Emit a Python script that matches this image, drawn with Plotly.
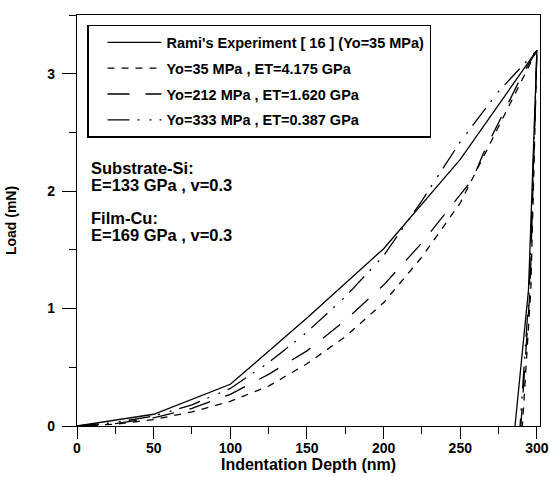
import plotly.graph_objects as go

# ---- data (depth in nm, load in mN) ----
exp_depth = [0, 50, 100, 150, 200, 250, 300, 297.5, 294.5, 285.7]
exp_load = [0, 0.10, 0.355, 0.92, 1.51, 2.27, 3.20, 2.20, 1.16, 0.0]

yo35_depth = [0, 25, 50, 75, 100, 125, 150, 175, 200, 225, 250, 275, 300, 296, 290.5]
yo35_load = [0, 0.015, 0.055, 0.12, 0.21, 0.34, 0.53, 0.76, 1.05, 1.44, 1.90, 2.55, 3.20, 1.16, 0.0]

yo212_depth = [0, 25, 50, 75, 100, 125, 150, 175, 200, 225, 250, 258, 265, 280, 290, 300, 295.5, 289.5]
yo212_load = [0, 0.02, 0.07, 0.15, 0.27, 0.44, 0.64, 0.90, 1.20, 1.56, 1.97, 2.10, 2.32, 2.72, 2.98, 3.20, 1.16, 0.0]

yo333_depth = [0, 25, 50, 75, 100, 125, 150, 175, 200, 225, 250, 275, 300, 295, 289]
yo333_load = [0, 0.03, 0.085, 0.18, 0.32, 0.54, 0.80, 1.10, 1.45, 1.92, 2.42, 2.85, 3.20, 1.16, 0.0]

series_names = [
    "Rami's Experiment [ 16 ] (Yo=35 MPa)",
    "Yo=35 MPa , ET=4.175 GPa",
    "Yo=212 MPa , ET=1.620 GPa",
    "Yo=333 MPa , ET=0.387 GPa",
]
series_x = [exp_depth, yo35_depth, yo212_depth, yo333_depth]
series_y = [exp_load, yo35_load, yo212_load, yo333_load]
series_dash = ["solid", "7px,7px", "22px,16px", "22px,8px,2px,10px,2px,8px"]

x_ticks = [0, 50, 100, 150, 200, 250, 300]
y_ticks = [0, 1, 2, 3]

notes = ["Substrate-Si:", "E=133 GPa , v=0.3", "Film-Cu:", "E=169 GPa , v=0.3"]
note_y = [0.628, 0.586, 0.506, 0.464]

FONT = "Liberation Sans, Arial, sans-serif"

fig = go.Figure()
for i, (nm, xs, ys, ds) in enumerate(zip(series_names, series_x, series_y, series_dash)):
    fig.add_trace(go.Scatter(
        x=xs, y=ys, mode="lines", name=nm, legendgroup=f"g{i}",
        line=dict(color="black", width=1.3, dash=ds),
    ))

for txt, yy in zip(notes, note_y):
    fig.add_annotation(
        text=txt, xref="paper", yref="paper", x=0.026, y=yy,
        xanchor="left", yanchor="middle", showarrow=False,
        font=dict(family=FONT, size=16.5, color="black", weight="bold"),
    )

axis_common = dict(
    showline=True, linecolor="black", linewidth=1.3, mirror=True,
    ticks="outside", tickcolor="black", tickwidth=1.3,
    showgrid=False, zeroline=False, automargin=False,
    tickfont=dict(family=FONT, size=14, color="black", weight="bold"),
)

fig.update_layout(
    width=550, height=477,
    margin=dict(l=77, r=10, t=15, b=51),
    paper_bgcolor="white", plot_bgcolor="white",
    showlegend=True,
    legend=dict(
        x=0.0216, y=0.976, xanchor="left", yanchor="top",
        bordercolor="black", borderwidth=1.5, bgcolor="white",
        font=dict(family=FONT, size=14.5, color="black", weight="bold"),
        tracegroupgap=4, itemwidth=54, indentation=14,
    ),
    xaxis=dict(
        range=[0, 302], tickvals=x_ticks, ticklen=12, ticklabelstandoff=-3,
        minor=dict(dtick=25, ticklen=7, ticks="outside", tickcolor="black", tickwidth=1.3),
        title=dict(text="Indentation Depth (nm)", standoff=3,
                   font=dict(family=FONT, size=16, color="black", weight="bold")),
        **axis_common,
    ),
    yaxis=dict(
        range=[0, 3.5], tickvals=y_ticks, ticklen=14, ticklabelstandoff=4,
        minor=dict(dtick=0.5, ticklen=7, ticks="outside", tickcolor="black", tickwidth=1.3),
        title=dict(text="Load (mN)", standoff=27,
                   font=dict(family=FONT, size=14, color="black", weight="bold")),
        **axis_common,
    ),
)

# remove the default 8px page margin so the 550x477 figure fills the window exactly
fig.write_html(
    "out.html",
    config={"displayModeBar": False},
    post_script="document.body.style.margin='0';",
)
